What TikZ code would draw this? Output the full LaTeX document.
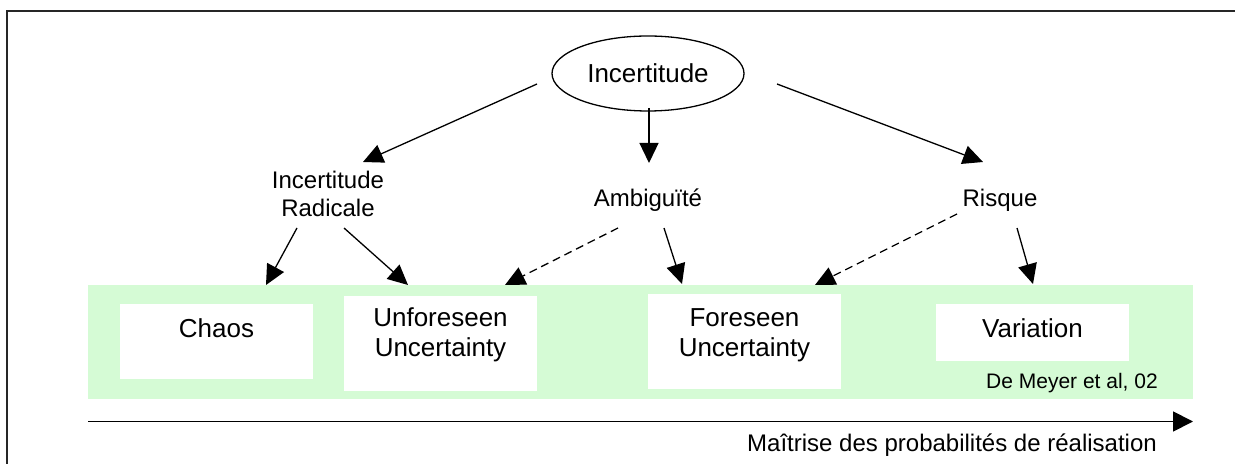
\documentclass[tikz,border=0pt]{standalone}
\usepackage{fontspec}
\setmainfont{Liberation Sans}
\usetikzlibrary{arrows.meta,shapes.geometric,calc}
\definecolor{bandgreen}{RGB}{213,251,213}
\tikzset{
  box/.style={fill=white,minimum width=96.5pt,inner sep=0pt},
  big/.style={font=\fontsize{13}{15}\selectfont,align=center,inner sep=0pt},
  lbl/.style={font=\fontsize{12}{14}\selectfont,align=center,inner sep=0pt},
  arr/.style={-{Triangle[length=10pt,width=9.5pt]},line width=0.65pt},
  dsh/.style={arr,dash pattern=on 4pt off 2.5pt},
}
\begin{document}
\begin{tikzpicture}[x=0.5pt,y=-0.5pt]
      \clip (0,0) rectangle (1235,464);
      \draw[line width=1.1pt,black!85] (7,490) -- (7,11) -- (1260,11);
      % green band and boxes
      \node[fill=bandgreen,minimum width=552.5pt,minimum height=57pt,inner sep=0pt] (band) at (640.5,342) {};
      \node[box,minimum height=37.5pt] (chaos) at (216.5,341.5) {};
      \node[box,minimum height=47.5pt] (unf) at (440.5,343.5) {};
      \node[box,minimum height=47.5pt] (fore) at (744.5,341.5) {};
      \node[box,minimum height=28.5pt] (var) at (1032.5,332.5) {};
      \node[big] (tchaos) at (216.5,328) {Chaos};
      \node[big] (tunf) at (440.5,335) {Unforeseen\\Uncertainty};
      \node[big] (tfore) at (744.5,335) {Foreseen\\Uncertainty};
      \node[big] (tvar) at (1032.5,328) {Variation};
      \node[font=\fontsize{10.5}{12}\selectfont,inner sep=0pt] (src) at (1072,383) {De Meyer et al, 02};
      % top of the tree
      \node[draw,ellipse,line width=0.65pt,minimum width=96pt,minimum height=37.5pt,big] (inc) at (648,73.5) {Incertitude};
      \node[lbl] (rad) at (328,194) {Incertitude\\Radicale};
      \node[lbl] (amb) at (648,200) {Ambiguïté};
      \node[lbl] (risk) at (1000,200) {Risque};
      \coordinate (c1) at (266,285);
      \coordinate (c2) at (408,285);
      \coordinate (c3) at (505,285);
      \coordinate (c4) at (682,284);
      \coordinate (c5) at (815,285);
      \coordinate (c6) at (1033,284);
      \begin{scope}[arr]
        \draw ($(inc)+(-111,10.5)$) -- ($(rad)+(35,-32)$);
        \draw ($(inc)+(1,34.5)$) -- ($(amb)+(1,-37)$);
        \draw ($(inc)+(129,10.5)$) -- ($(risk)+(-17,-38)$);
        \draw ($(rad)+(-31,34)$) -- (c1);
        \draw ($(rad)+(16,34)$) -- (c2);
        \draw[dsh] ($(amb)+(-30,28)$) -- (c3);
        \draw ($(amb)+(16,28)$) -- (c4);
        \draw[dsh] ($(risk)+(-43,14)$) -- (c5);
        \draw ($(risk)+(17,28)$) -- (c6);
      \end{scope}
      % axis
      \coordinate (ax0) at (88,421.5);
      \coordinate (ax1) at (1193,421.5);
      \draw[line width=0.9pt,-{Triangle[length=10pt,width=10pt]}] (ax0) -- (ax1);
      \node[lbl] (axlbl) at (952,445) {Maîtrise des probabilités de réalisation};
    \end{tikzpicture}
\end{document}
